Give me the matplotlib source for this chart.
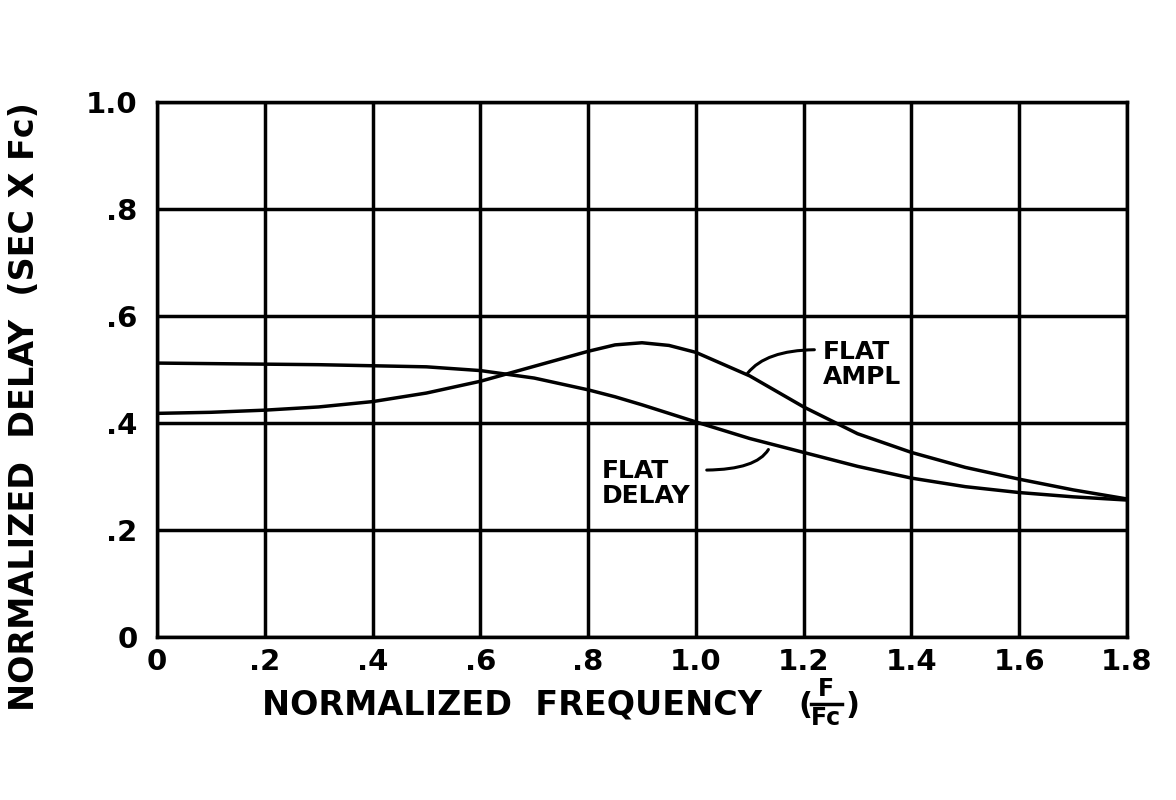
import numpy as np
import matplotlib
matplotlib.use("Agg")
import matplotlib.pyplot as plt

# normalized frequency F/Fc
freq = [0, 0.1, 0.2, 0.3, 0.4, 0.5, 0.6, 0.7, 0.8, 0.85, 0.9, 0.95, 1.0, 1.1, 1.2, 1.3, 1.4, 1.5, 1.6, 1.7, 1.8]
# flat delay curve
flat_delay = [0.512, 0.511, 0.510, 0.509, 0.507, 0.505, 0.498, 0.484, 0.462, 0.449, 0.434, 0.418, 0.402, 0.371, 0.345, 0.319, 0.297, 0.281, 0.270, 0.262, 0.256]
# flat amplitude curve
flat_ampl = [0.418, 0.420, 0.424, 0.430, 0.440, 0.456, 0.478, 0.506, 0.534, 0.546, 0.550, 0.545, 0.532, 0.488, 0.430, 0.380, 0.345, 0.317, 0.295, 0.275, 0.258]

xticks = [0, 0.2, 0.4, 0.6, 0.8, 1.0, 1.2, 1.4, 1.6, 1.8]
xticklabels = ["0", ".2", ".4", ".6", ".8", "1.0", "1.2", "1.4", "1.6", "1.8"]
yticks = [0, 0.2, 0.4, 0.6, 0.8, 1.0]
yticklabels = ["0", ".2", ".4", ".6", ".8", "1.0"]

plt.rcParams['font.family'] = ['DejaVu Sans']
plt.rcParams['font.weight'] = 'bold'

W, H = 1176, 800
fig = plt.figure(figsize=(11.76, 8), dpi=100)
ax = fig.add_axes([157/W, 1-637/H, (1127-157)/W, (637-102)/H])

ax.plot(freq, flat_delay, color="black", lw=2.5)
ax.plot(freq, flat_ampl, color="black", lw=2.5)

ax.set_xlim(0, 1.8)
ax.set_ylim(0, 1.0)
ax.set_xticks(xticks)
ax.set_xticklabels(xticklabels)
ax.set_yticks(yticks)
ax.set_yticklabels(yticklabels)
ax.tick_params(axis='x', length=0, labelsize=21, pad=8)
ax.tick_params(axis='y', length=0, labelsize=21, pad=14)
for lbl in ax.get_xticklabels() + ax.get_yticklabels():
    lbl.set_fontweight('bold')
ax.grid(True, color="black", lw=2.5)
for s in ax.spines.values():
    s.set_linewidth(2.5)

# curve labels with leader lines
ax.text(1.236, 0.51, "FLAT\nAMPL", fontsize=18, fontweight='bold', va='center', ha='left', linespacing=1.05)
ax.annotate("", xy=(1.093, 0.489), xytext=(1.225, 0.537),
            arrowprops=dict(arrowstyle='-', lw=2.2, color='black',
                            connectionstyle='angle3,angleA=0,angleB=55'))
ax.text(0.826, 0.287, "FLAT\nDELAY", fontsize=18, fontweight='bold', va='center', ha='left', linespacing=1.05)
ax.annotate("", xy=(1.137, 0.355), xytext=(1.015, 0.312),
            arrowprops=dict(arrowstyle='-', lw=2.2, color='black',
                            connectionstyle='angle3,angleA=0,angleB=65'))

# y axis title
fig.text(25/W, 1-407/H, "NORMALIZED  DELAY  (SEC X Fc)", rotation=90, fontsize=24,
         fontweight='bold', ha='center', va='center')

# x axis title
fig.text(262/W, 1-705/H, "NORMALIZED  FREQUENCY", fontsize=24, fontweight='bold', ha='left', va='center')
fig.text(798/W, 1-705/H, "(", fontsize=22, fontweight='bold', ha='left', va='center')
fig.text(826/W, 1-689/H, "F", fontsize=17, fontweight='bold', ha='center', va='center')
fig.add_artist(plt.Line2D([811/W, 842/W], [1-704/H, 1-704/H], color='black', lw=2.5))
fig.text(826/W, 1-718/H, "Fc", fontsize=17, fontweight='bold', ha='center', va='center')
fig.text(846/W, 1-705/H, ")", fontsize=22, fontweight='bold', ha='left', va='center')

fig.savefig("out.png", dpi=100, facecolor="white")
